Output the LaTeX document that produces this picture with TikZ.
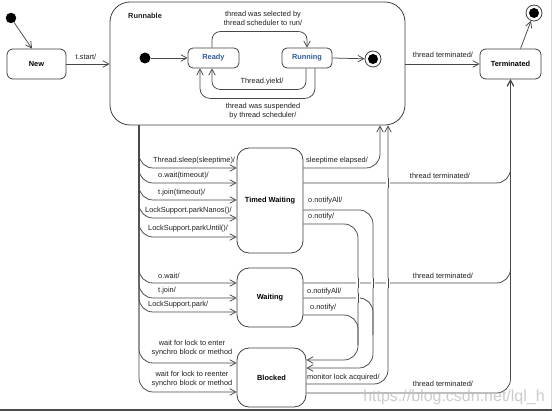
\documentclass[tikz,border=0pt]{standalone}
\usepackage{fontspec}
\setmainfont{Liberation Sans}
\usetikzlibrary{arrows.meta}
\definecolor{stblue}{HTML}{2F5C9E}
\begin{document}
\begin{tikzpicture}[x=1pt,y=-1pt,
  lc/.style={draw=black!72, line width=0.75pt},
  tr/.style={lc, -{Straight Barb[length=6pt,width=6.5pt]}, rounded corners=14pt},
  plain/.style={lc, rounded corners=14pt},
  gap/.style={preaction={draw=white, line width=4.5pt}},
  lbl/.style={font=\fontsize{7.4}{9}\selectfont, inner sep=0pt, text=black!88},
  box/.style={draw=black!75, line width=0.8pt, fill=white, inner sep=0pt, font=\fontsize{7.4}{9}\selectfont\bfseries},
  dot/.style={circle, fill=black, inner sep=0pt, minimum size=#1},
]
\useasboundingbox (0,0) rectangle (552,411);
\fill[white] (0,0) rectangle (552,411);

% states
\node[box, minimum width=295pt, minimum height=123pt, rounded corners=20pt] (runnable) at (257.5,63.5) {};
\node[lbl, font=\fontsize{7.4}{9}\selectfont\bfseries, anchor=west] (runlbl) at (128,16) {Runnable};
\node[box, minimum width=59pt, minimum height=30pt, rounded corners=6pt] (new) at (36.5,64) {New};
\node[box, minimum width=61pt, minimum height=30pt, rounded corners=6pt] (term) at (510.5,64) {Terminated};
\node[box, minimum width=51pt, minimum height=20pt, rounded corners=5pt, text=stblue] (ready) at (213.5,58) {Ready};
\node[box, minimum width=50pt, minimum height=20pt, rounded corners=5pt, text=stblue] (running) at (307,58) {Running};
\node[box, minimum width=66pt, minimum height=105pt, rounded corners=12pt] (tw) at (270,200.5) {Timed Waiting};
\node[box, minimum width=66pt, minimum height=59pt, rounded corners=12pt] (waiting) at (270,297.5) {Waiting};
\node[box, minimum width=69pt, minimum height=59pt, rounded corners=12pt] (blocked) at (271.5,377.5) {Blocked};

% pseudo states
\node[dot=10.5pt] (init) at (11,18) {};
\node[dot=11pt] (idot) at (145,58) {};
\node[circle, draw=black!75, line width=0.8pt, minimum size=16pt, inner sep=0pt] (fin) at (534,13) {};
\node[dot=10pt] (finin) at (fin) {};
\node[circle, draw=black!75, line width=0.8pt, minimum size=16pt, inner sep=0pt] (fin2) at (373,59) {};
\node[dot=10pt] (fin2in) at (fin2) {};

% top level transitions
\draw[tr] (init) -- ([xshift=-4.5pt]new.north);
\draw[tr] (new.east) -- (new.east -| runnable.west);
\node[lbl] (lstart) at (86,57) {t.start/};
\draw[tr] (runnable.east |- term.west) -- (term.west);
\node[lbl] (lterm0) at (443,55) {thread terminated/};
\draw[tr] ([xshift=10pt]term.north) -- (fin);

% inside runnable
\draw[tr] (idot) -- (ready.west);
\draw[tr, rounded corners=8pt] ([xshift=-1.5pt]ready.north) -- ++(0,-16) -| (running.north);
\node[lbl, align=center] (lsel) at (263,18) {thread was selected by\\thread scheduler to run/};
\draw[tr, rounded corners=8pt] ([xshift=-1pt]running.south) -- ++(0,21) -| ([xshift=-1.5pt]ready.south);
\node[lbl] (lyield) at (262,82) {Thread.yield/};
\draw[tr, rounded corners=10pt] ([xshift=8pt]running.south) -- ++(0,30) -| ([xshift=-13.5pt]ready.south);
\node[lbl, align=center] (lsusp) at (263,111) {thread was suspended\\by thread scheduler/};
\draw[tr] (running.east) -- (fin2);

% incoming from runnable
\foreach \y in {168,183,200,218,237} \draw[tr] (runnable.south -| 139,0) -- (139,\y) -- (tw.west |- 0,\y);
\foreach \y in {283,298,312} \draw[tr] (runnable.south -| 139,0) -- (139,\y) -- (waiting.west |- 0,\y);
\foreach \y in {363,392} \draw[tr] (runnable.south -| 139,0) -- (139,\y) -- (blocked.west |- 0,\y);

\node[lbl, anchor=west] (l1) at (153,161) {Thread.sleep(sleeptime)/};
\node[lbl, anchor=west] (l2) at (158,176) {o.wait(timeout)/};
\node[lbl, anchor=west] (l3) at (158,193) {t.join(timeout)/};
\node[lbl, anchor=west] (l4) at (145,210.5) {LockSupport.parkNanos()/};
\node[lbl, anchor=west] (l5) at (148,228.5) {LockSupport.parkUntil()/};
\node[lbl, anchor=west] (l6) at (158,276) {o.wait/};
\node[lbl, anchor=west] (l7) at (158,291) {t.join/};
\node[lbl, anchor=west] (l8) at (148,305) {LockSupport.park/};
\node[lbl, align=center] (l9) at (192,348.5) {wait for lock to enter\\synchro block or method};
\node[lbl, align=center] (l10) at (192,379) {wait for lock to reenter\\synchro block or method};

% outgoing
\draw[tr] (tw.east |- 0,168) -- (380,168) -- (runnable.south -| 380,0);
\draw[tr] (tw.east |- 0,183) -| (term.south);
\draw[tr] (waiting.east |- 0,283) -| (term.south);
\draw[tr] (blocked.east |- 0,393) -| (term.south);
\draw[tr] (tw.east |- 0,224) -| (358,360) -- (blocked.east |- 0,360);
\draw[tr] (tw.east |- 0,210) -| (373,368) -- (blocked.east |- 0,368);
\draw[tr] (blocked.east |- 0,384) -| (runnable.south -| 388,0);
\draw[plain] (waiting.east |- 0,298) -| (373,335);
\draw[plain] (waiting.east |- 0,315) -| (358,345);

% crossings (line jumps)
\draw[lc, gap] (388,178) -- (388,188);
\draw[lc, gap] (358,278) -- (358,288);
\draw[lc, gap] (373,278) -- (373,288);
\draw[lc, gap] (388,278) -- (388,288);
\draw[lc, gap] (358,293) -- (358,303);

\node[lbl, anchor=west] (m1) at (306,161) {sleeptime elapsed/};
\node[lbl] (m2) at (440,176) {thread terminated/};
\node[lbl, anchor=west] (m3) at (308,201) {o.notifyAll/};
\node[lbl, anchor=west] (m4) at (308,217) {o.notify/};
\node[lbl] (m5) at (443,276) {thread terminated/};
\node[lbl, anchor=west] (m6) at (307,291.5) {o.notifyAll/};
\node[lbl, anchor=west] (m7) at (310,308) {o.notify/};
\node[lbl, anchor=west] (m8) at (307,378) {monitor lock acquired/};
\node[lbl] (m9) at (443,384) {thread terminated/};

% watermark and frame artefacts
\node[font=\fontsize{16}{16}\selectfont, text=black!25, opacity=0.8, inner sep=0pt] (wm) at (454,397) {https://blog.csdn.net/lql\_h};
\fill[black!70] (0,409.5) rectangle (552,411);
\draw[black!15, line width=0.8pt] (551,0) -- (551,409);
\end{tikzpicture}
\end{document}
